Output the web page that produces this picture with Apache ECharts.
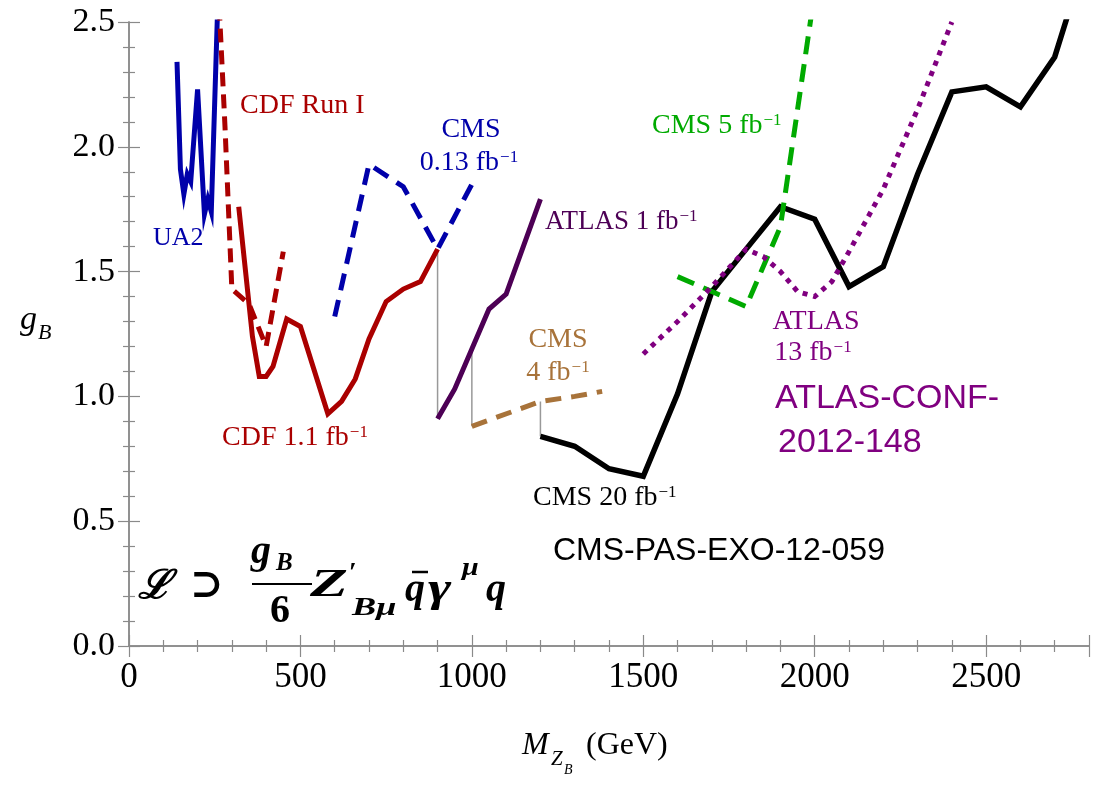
<!DOCTYPE html>
<html><head><meta charset="utf-8">
<script src="https://cdn.jsdelivr.net/npm/echarts@6/dist/echarts.min.js"></script>
<style>html,body{margin:0;padding:0;background:#fff}#c{width:1098px;height:785px}</style>
</head><body><div id="c"></div>
<script>
// ---- data (mass in GeV, coupling g_B) ----
const xTicks = [0, 500, 1000, 1500, 2000, 2500];
const yTicks = [0.0, 0.5, 1.0, 1.5, 2.0, 2.5];
const ua2 = [[140,2.34],[150,1.91],[160,1.81],[170,1.89],[180,1.86],[200,2.23],[220,1.73],[230,1.79],[240,1.74],[260,2.62]];
const cdfRun1 = [[260,2.65],[280,2.08],[300,1.43],[350,1.37],[400,1.20],[450,1.58]];
const cdf11 = [[320,1.76],[360,1.24],[380,1.08],[400,1.08],[420,1.12],[460,1.31],[500,1.28],[580,0.93],[620,0.98],[660,1.07],[700,1.23],[750,1.38],[800,1.43],[850,1.46],[900,1.59]];
const cms013 = [[600,1.32],[700,1.93],[800,1.84],[900,1.59],[1000,1.85]];
const atlas1 = [[900,0.91],[950,1.03],[1000,1.19],[1050,1.35],[1100,1.41],[1200,1.79]];
const cms4 = [[1000,0.88],[1200,0.98],[1300,1.00],[1380,1.02]];
const cms20 = [[1200,0.84],[1300,0.80],[1400,0.71],[1500,0.68],[1600,1.01],[1700,1.42],[1800,1.59],[1900,1.76],[2000,1.71],[2100,1.44],[2200,1.52],[2300,1.89],[2400,2.22],[2500,2.24],[2600,2.16],[2700,2.36],[2800,2.80]];
const cms5 = [[1600,1.48],[1700,1.42],[1800,1.36],[1900,1.68],[2000,2.62]];
const atlas13 = [[1500,1.17],[1600,1.30],[1700,1.44],[1800,1.59],[1850,1.56],[1900,1.50],[1950,1.42],[2000,1.40],[2050,1.46],[2100,1.58],[2200,1.83],[2300,2.15],[2400,2.50]];
const connectors = [[[900,1.59],[900,0.91]],[[1000,1.19],[1000,0.88]],[[1200,0.98],[1200,0.84]]];

const serif = 'Liberation Serif';
const sans = 'Liberation Sans';

function line(data, color, width, type, z) {
  return { type: 'line', data: data, showSymbol: false, symbol: 'none', clip: true, z: z || 3,
    lineStyle: { color: color, width: width, type: type || 'solid', cap: 'butt', join: 'miter' }, animation: false };
}

const series = [];
connectors.forEach(c => series.push(line(c, '#999999', 1.5, 'solid', 2)));
series.push(line(ua2, '#0000AA', 5));
series.push(line(cdfRun1, '#AA0000', 5, [14, 8]));
series.push(line(cdf11, '#AA0000', 5));
series.push(line(cms013, '#0000AA', 5, [17, 10]));
series.push(line(atlas1, '#4D0055', 5));
series.push(line(cms4, '#A8733A', 5, [16, 10]));
series.push(line(cms20, '#000000', 5.5));
series.push(line(cms5, '#00AA00', 5, [18, 10]));
series.push(line(atlas13, '#800080', 5, [5, 6]));

function lab(x, y, parts, color, size, align) {
  return { type: 'text', x: x, y: y, z: 50,
    style: { text: parts, fill: color, font: size + 'px "' + serif + '"', align: align || 'left', verticalAlign: 'middle',
      rich: { n: { fontFamily: serif, fontSize: size, fill: color },
              s: { fontFamily: serif, fontSize: Math.round(size * 0.62), fill: color, verticalAlign: 'top', padding: [0,0,0,1] } } } };
}
function t(x, y, text, size, opts) {
  opts = opts || {};
  return { type: 'text', x: x, y: y, z: 50, scaleX: opts.sx || 1,
    style: { text: text, fill: opts.color || '#000', fontFamily: opts.family || serif, fontSize: size,
      fontStyle: opts.italic ? 'italic' : 'normal', fontWeight: opts.bold ? 'bold' : 'normal',
      align: opts.align || 'left', verticalAlign: 'middle' } };
}

const graphic = [
  lab(153, 238, '{n|UA2}', '#0000AA', 26),
  lab(240, 106, '{n|CDF Run I}', '#AA0000', 28),
  lab(471, 130, '{n|CMS}', '#0000AA', 28, 'center'),
  lab(469, 163, '{n|0.13 fb}{s|−1}', '#0000AA', 28, 'center'),
  lab(545, 222, '{n|ATLAS 1 fb}{s|−1}', '#4D0055', 27),
  lab(558, 340, '{n|CMS}', '#A8733A', 28, 'center'),
  lab(558, 373, '{n|4 fb}{s|−1}', '#A8733A', 28, 'center'),
  lab(222, 438, '{n|CDF 1.1 fb}{s|−1}', '#AA0000', 28),
  lab(533, 498, '{n|CMS 20 fb}{s|−1}', '#000000', 28),
  lab(652, 126, '{n|CMS 5 fb}{s|−1}', '#00AA00', 28),
  lab(816, 322, '{n|ATLAS}', '#800080', 28, 'center'),
  lab(813, 353, '{n|13 fb}{s|−1}', '#800080', 28, 'center'),
  t(775, 399, 'ATLAS-CONF-', 34, {family: sans, color: '#800080'}),
  t(778, 443, '2012-148', 34, {family: sans, color: '#800080'}),
  t(553, 551, 'CMS-PAS-EXO-12-059', 32, {family: sans}),
  // formula
  t(138, 588, 'ℒ', 40, {family: 'DejaVu Serif', bold: true, italic: true}),
  t(190, 587, '⊃', 40, {family: 'DejaVu Serif', bold: true}),
  t(251, 553, 'g', 40, {italic: true, bold: true}),
  t(276, 564, 'B', 25, {italic: true, bold: true}),
  { type: 'line', z: 50, shape: { x1: 252, y1: 584, x2: 312, y2: 584 }, style: { stroke: '#000', lineWidth: 2 } },
  t(280, 612, '6', 40, {bold: true, align: 'center'}),
  t(310, 586, 'Z', 40, {italic: true, bold: true, sx: 1.55}),
  t(349, 574, '′', 28, {bold: true}),
  t(352, 609, 'Bμ', 25, {italic: true, bold: true, sx: 1.45}),
  t(405, 591, 'q', 40, {italic: true, bold: true}),
  { type: 'line', z: 50, shape: { x1: 412, y1: 572, x2: 428, y2: 572 }, style: { stroke: '#000', lineWidth: 2.5 } },
  t(428, 591, 'γ', 40, {italic: true, bold: true, sx: 1.4}),
  t(462, 569, 'μ', 25, {italic: true, bold: true, sx: 1.2}),
  t(486, 591, 'q', 40, {italic: true, bold: true}),
  // axis names
  t(522, 746, 'M', 32, {italic: true}),
  t(551, 759, 'Z', 21, {italic: true}),
  t(564, 770, 'B', 14, {italic: true}),
  t(586, 746, '(GeV)', 32),
  t(20, 320, 'g', 34, {italic: true}),
  t(38, 333, 'B', 22, {italic: true})
];

const axisLine = { show: true, lineStyle: { color: '#8a8a8a', width: 1.5 } };
const tickStyle = { color: '#8a8a8a', width: 1.2 };
const option = {
  animation: false,
  backgroundColor: '#fff',
  grid: { left: 129, right: 9, top: 22, bottom: 139, containLabel: false },
  xAxis: [
    { type: 'value', min: 0, max: 2800, interval: 500, position: 'bottom',
      axisLine: axisLine, splitLine: { show: false },
      axisTick: { show: true, inside: true, length: 11, lineStyle: tickStyle },
      minorTick: { show: true, splitNumber: 5, length: 6, lineStyle: tickStyle },
      axisLabel: { show: true, margin: 14, color: '#000', fontFamily: serif, fontSize: 35,
        customValues: xTicks, formatter: v => String(v) } },
    { type: 'value', min: 0, max: 2800, interval: 500, position: 'top',
      axisLine: axisLine, splitLine: { show: false },
      axisTick: { show: true, inside: true, length: 11, lineStyle: tickStyle },
      minorTick: { show: true, splitNumber: 5, length: 6, lineStyle: tickStyle },
      axisLabel: { show: false } }
  ],
  yAxis: [
    { type: 'value', min: 0, max: 2.5, interval: 0.5, position: 'left',
      axisLine: axisLine, splitLine: { show: false },
      axisTick: { show: true, inside: true, length: 11, lineStyle: tickStyle },
      minorTick: { show: true, splitNumber: 5, length: 6, lineStyle: tickStyle },
      axisLabel: { show: true, margin: 14, color: '#000', fontFamily: serif, fontSize: 34,
        formatter: v => { const m = yTicks.find(k => Math.abs(k - v) < 1e-6); return (m === undefined ? v : m).toFixed(1); } } },
    { type: 'value', min: 0, max: 2.5, interval: 0.5, position: 'right',
      axisLine: axisLine, splitLine: { show: false },
      axisTick: { show: true, inside: true, length: 11, lineStyle: tickStyle },
      minorTick: { show: true, splitNumber: 5, length: 6, lineStyle: tickStyle },
      axisLabel: { show: false } }
  ],
  series: series,
  graphic: graphic
};
const chart = echarts.init(document.getElementById('c'), null, { renderer: 'canvas' });
chart.setOption(option);
</script>
</body></html>
